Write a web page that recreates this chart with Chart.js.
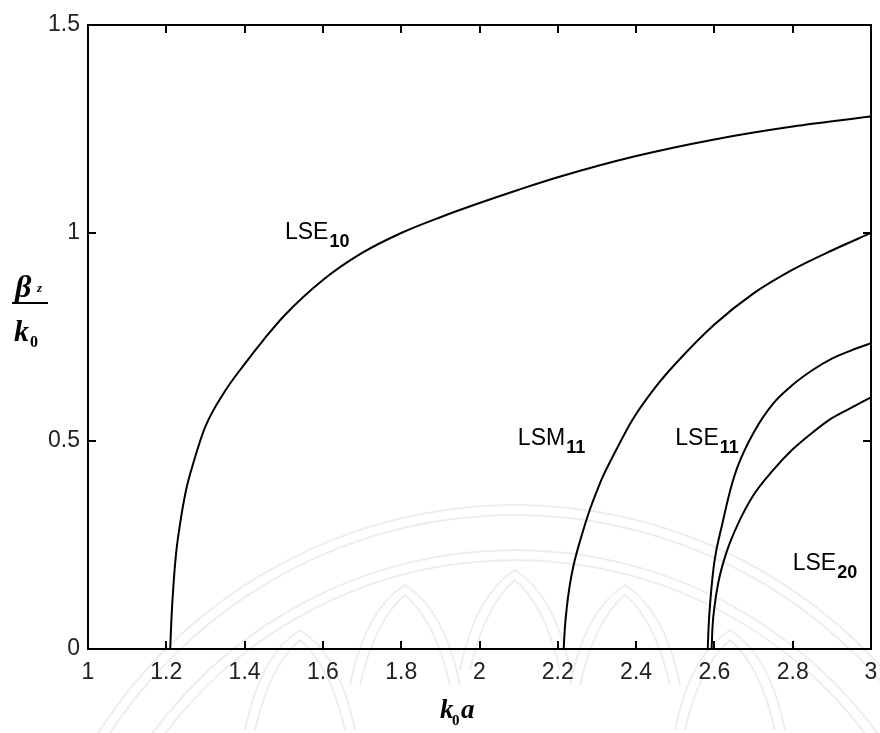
<!DOCTYPE html>
<html>
<head>
<meta charset="utf-8">
<script src="https://cdn.jsdelivr.net/npm/chart.js@4/dist/chart.umd.min.js"></script>
<style>
  html, body { margin: 0; padding: 0; background: #fff; }
  canvas { display: block; }
</style>
</head>
<body>
<canvas id="c" width="880" height="733"></canvas>
<script>
// Normalised propagation constant beta_z/k0 versus k0*a for four modes
const lse10X = [1.21, 1.213, 1.218, 1.225, 1.235, 1.25, 1.27, 1.3, 1.35, 1.4, 1.45, 1.5, 1.6, 1.7, 1.8, 1.9, 2.0, 2.1, 2.2, 2.4, 2.6, 2.8, 3.0];
const lse10Y = [0, 0.07, 0.15, 0.23, 0.30, 0.38, 0.45, 0.535, 0.62, 0.685, 0.745, 0.80, 0.887, 0.952, 1.0, 1.038, 1.072, 1.104, 1.134, 1.185, 1.225, 1.256, 1.28];

const lsm11X = [2.215, 2.218, 2.223, 2.23, 2.24, 2.26, 2.28, 2.3, 2.313, 2.35, 2.39, 2.45, 2.5, 2.6, 2.7, 2.8, 2.9, 3.0];
const lsm11Y = [0, 0.05, 0.10, 0.15, 0.20, 0.27, 0.33, 0.38, 0.41, 0.48, 0.55, 0.63, 0.685, 0.78, 0.855, 0.912, 0.958, 1.0];

const lse11X = [2.583, 2.585, 2.59, 2.6, 2.62, 2.64, 2.66, 2.7, 2.75, 2.8, 2.85, 2.9, 2.95, 3.0];
const lse11Y = [0, 0.05, 0.12, 0.21, 0.30, 0.38, 0.44, 0.52, 0.59, 0.635, 0.67, 0.698, 0.718, 0.735];

const lse20X = [2.593, 2.595, 2.6, 2.61, 2.63, 2.66, 2.7, 2.75, 2.8, 2.85, 2.9, 2.95, 3.0];
const lse20Y = [0, 0.05, 0.10, 0.16, 0.23, 0.30, 0.37, 0.43, 0.48, 0.52, 0.555, 0.58, 0.605];

const modeNames = ['LSE', 'LSM', 'LSE', 'LSE'];
const modeIndices = ['10', '11', '11', '20'];

const xTickValues = [1, 1.2, 1.4, 1.6, 1.8, 2, 2.2, 2.4, 2.6, 2.8, 3];
const yTickValues = [0, 0.5, 1, 1.5];

const toPoints = (xs, ys) => xs.map((x, i) => ({ x: x, y: ys[i] }));

// where each mode label sits, in axis units (left edge, baseline)
const labelAnchors = [
  { x: 1.503, y: 0.985 },
  { x: 2.098, y: 0.49 },
  { x: 2.50, y: 0.49 },
  { x: 2.80, y: 0.19 }
];

const SANS = '"Liberation Sans", Arial, sans-serif';
const SERIF = '"Liberation Serif", "Times New Roman", serif';

// faint circular emblem behind the plot
const emblem = {
  id: 'emblem',
  beforeDraw(chart) {
    const ctx = chart.ctx;
    ctx.save();
    ctx.strokeStyle = 'rgba(0,0,0,0.07)';
    ctx.lineWidth = 2;
    const cx = 515, cy = 1000;
    [495, 485, 450, 440].forEach(r => {
      ctx.beginPath();
      ctx.arc(cx, cy, r, Math.PI * 1.08, Math.PI * 1.92);
      ctx.stroke();
    });
    // lotus petals
    const petals = [[300, 650], [405, 605], [515, 590], [625, 605], [730, 650]];
    petals.forEach(([px, py]) => {
      [0, 10].forEach(d => {
        ctx.beginPath();
        ctx.moveTo(px - 55 + d, py + 80);
        ctx.quadraticCurveTo(px - 40 + d, py + 5 + d, px, py - 20 + d);
        ctx.quadraticCurveTo(px + 40 - d, py + 5 + d, px + 55 - d, py + 80);
        ctx.stroke();
      });
    });
    ctx.restore();
  }
};

// box frame with inward tick marks on all four sides
const frame = {
  id: 'frame',
  afterDatasetsDraw(chart) {
    const { ctx, chartArea: a, scales } = chart;
    ctx.save();
    ctx.strokeStyle = '#000';
    ctx.lineWidth = 2;
    ctx.strokeRect(a.left, a.top, a.right - a.left, a.bottom - a.top);
    const t = 8;
    xTickValues.forEach(v => {
      const px = Math.round(scales.x.getPixelForValue(v));
      ctx.beginPath();
      ctx.moveTo(px, a.bottom); ctx.lineTo(px, a.bottom - t);
      ctx.moveTo(px, a.top); ctx.lineTo(px, a.top + t);
      ctx.stroke();
    });
    yTickValues.forEach(v => {
      const py = Math.round(scales.y.getPixelForValue(v));
      ctx.beginPath();
      ctx.moveTo(a.left, py); ctx.lineTo(a.left + t, py);
      ctx.moveTo(a.right, py); ctx.lineTo(a.right - t, py);
      ctx.stroke();
    });
    ctx.restore();
  }
};

// mode labels with subscripts and the two axis titles
const texts = {
  id: 'texts',
  afterDraw(chart) {
    const { ctx, scales } = chart;
    ctx.save();
    ctx.fillStyle = '#000';
    ctx.textBaseline = 'alphabetic';
    labelAnchors.forEach((p, i) => {
      const px = scales.x.getPixelForValue(p.x);
      const py = scales.y.getPixelForValue(p.y);
      ctx.font = '23px ' + SANS;
      ctx.fillText(modeNames[i], px, py);
      const w = ctx.measureText(modeNames[i]).width;
      ctx.font = 'bold 18px ' + SANS;
      ctx.fillText(modeIndices[i], px + w + 1, py + 8);
    });

    // x-axis title: k0 a
    ctx.font = 'italic bold 27px ' + SERIF;
    ctx.fillText('k', 440, 718);
    ctx.font = 'bold 15px ' + SERIF;
    ctx.fillText('0', 452, 725);
    ctx.font = 'italic bold 27px ' + SERIF;
    ctx.fillText('a', 461, 718);

    // y-axis title: beta_z over k0
    ctx.font = 'italic bold 32px ' + SERIF;
    ctx.fillText('\u03B2', 15, 297);
    ctx.font = 'italic bold 13px ' + SERIF;
    ctx.fillText('z', 37, 292);
    ctx.fillRect(12, 302, 36, 2);
    ctx.font = 'italic bold 30px ' + SERIF;
    ctx.fillText('k', 14, 341);
    ctx.font = 'bold 16px ' + SERIF;
    ctx.fillText('0', 30, 347);
    ctx.restore();
  }
};

const curve = (pts) => ({
  data: pts,
  showLine: true,
  borderColor: '#000',
  borderWidth: 2,
  pointRadius: 0,
  fill: false,
  cubicInterpolationMode: 'monotone'
});

new Chart(document.getElementById('c'), {
  type: 'scatter',
  data: {
    datasets: [
      curve(toPoints(lse10X, lse10Y)),
      curve(toPoints(lsm11X, lsm11Y)),
      curve(toPoints(lse11X, lse11Y)),
      curve(toPoints(lse20X, lse20Y))
    ]
  },
  options: {
    responsive: false,
    animation: false,
    devicePixelRatio: 1,
    layout: { padding: { left: 0, right: 9, top: 25, bottom: 0 } },
    plugins: { legend: { display: false }, tooltip: { enabled: false } },
    scales: {
      x: {
        type: 'linear', min: 1, max: 3,
        afterBuildTicks: s => { s.ticks = xTickValues.map(v => ({ value: v })); },
        afterFit: s => { s.height = 84; s.paddingLeft = 0; s.paddingRight = 0; },
        grid: { display: false, drawTicks: false },
        border: { display: false },
        ticks: {
          color: '#222', padding: 10, maxRotation: 0, autoSkip: false,
          font: { family: SANS, size: 23 },
          callback: v => String(+Number(v).toFixed(1))
        }
      },
      y: {
        type: 'linear', min: 0, max: 1.5,
        afterBuildTicks: s => { s.ticks = yTickValues.map(v => ({ value: v })); },
        afterFit: s => { s.width = 88; s.paddingTop = 0; s.paddingBottom = 0; },
        grid: { display: false, drawTicks: false },
        border: { display: false },
        ticks: {
          color: '#222', padding: 8, autoSkip: false,
          font: { family: SANS, size: 23 },
          callback: v => String(+Number(v).toFixed(1))
        }
      }
    }
  },
  plugins: [emblem, frame, texts]
});
</script>
</body>
</html>
